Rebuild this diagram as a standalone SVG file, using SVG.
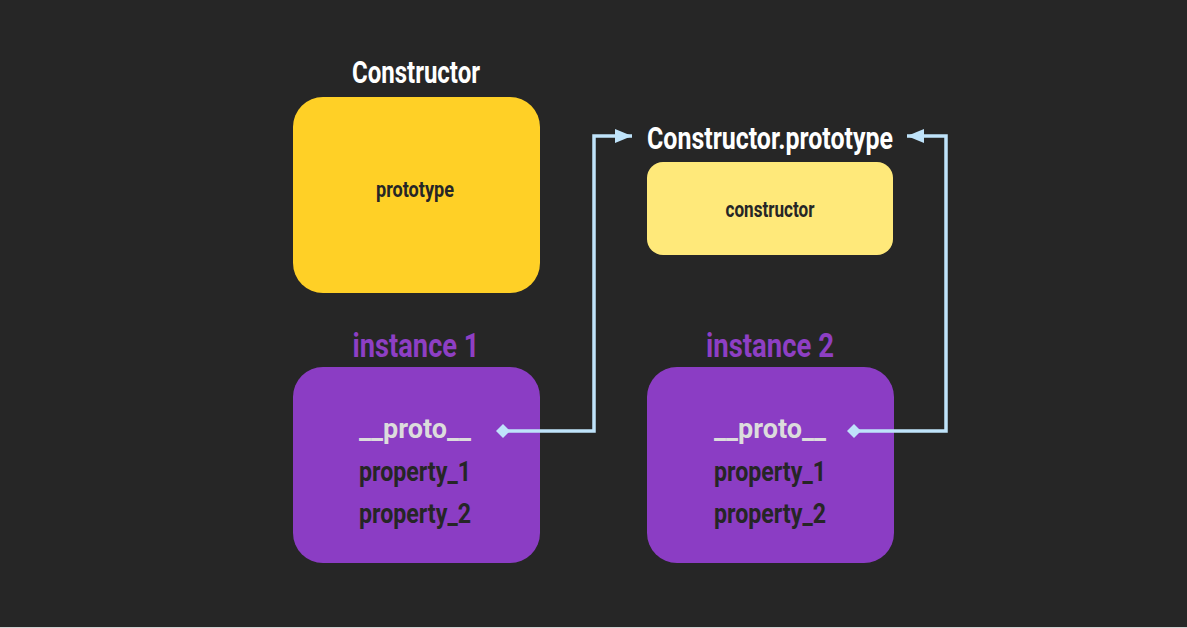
<svg xmlns="http://www.w3.org/2000/svg" width="1187" height="628" viewBox="0 0 1187 628">
<defs>
<style>
text{font-family:Roboto,"Liberation Sans",sans-serif;font-weight:700;text-anchor:middle}
.title{fill:#ffffff;font-size:32px}
.inst{fill:#8e3fc4;font-size:34px}
.in{fill:#262626;font-size:28px}
.proto{fill:#dcdcdc;font-size:28px}
.small{fill:#262626;font-size:22px}
.conn{fill:none;stroke:#bfe3fa;stroke-width:3.5}
</style>
<marker id="dia" markerWidth="16" markerHeight="16" refX="8" refY="8" markerUnits="userSpaceOnUse" orient="auto">
<path d="M1 8 L8 1 L15 8 L8 15 Z" fill="#bfe3fa"/>
</marker>
<marker id="arr" markerWidth="18" markerHeight="16" refX="17" refY="8" markerUnits="userSpaceOnUse" orient="auto">
<path d="M0 1 L17 8 L0 15 Z" fill="#bfe3fa"/>
</marker>
</defs>
<rect width="1187" height="628" fill="#262626"/>
<rect y="627" width="1187" height="1" fill="#d0d0d0"/>

<g id="constructor">
<text class="title" x="416" y="83" textLength="128" lengthAdjust="spacingAndGlyphs">Constructor</text>
<rect x="293" y="97" width="247" height="196" rx="30" fill="#ffd026"/>
<text class="small" x="415" y="197" textLength="78" lengthAdjust="spacingAndGlyphs">prototype</text>
</g>

<g id="constructor-prototype">
<text class="title" x="770" y="149" textLength="246" lengthAdjust="spacingAndGlyphs">Constructor.prototype</text>
<rect x="647" y="162" width="246" height="93" rx="16" fill="#ffe97a"/>
<text class="small" x="770" y="217" textLength="89" lengthAdjust="spacingAndGlyphs">constructor</text>
</g>

<g id="instance1">
<text class="inst" x="416" y="357" textLength="127" lengthAdjust="spacingAndGlyphs">instance 1</text>
<rect x="293" y="367" width="247" height="196" rx="30" fill="#8b3dc4"/>
<text class="proto" x="415" y="438" textLength="112" lengthAdjust="spacingAndGlyphs">__proto__</text>
<text class="in" x="415" y="481" textLength="112" lengthAdjust="spacingAndGlyphs">property_1</text>
<text class="in" x="415" y="523" textLength="112" lengthAdjust="spacingAndGlyphs">property_2</text>
</g>

<g id="instance2">
<text class="inst" x="770" y="357" textLength="128" lengthAdjust="spacingAndGlyphs">instance 2</text>
<rect x="647" y="367" width="247" height="196" rx="30" fill="#8b3dc4"/>
<text class="proto" x="770" y="438" textLength="112" lengthAdjust="spacingAndGlyphs">__proto__</text>
<text class="in" x="770" y="481" textLength="112" lengthAdjust="spacingAndGlyphs">property_1</text>
<text class="in" x="770" y="523" textLength="112" lengthAdjust="spacingAndGlyphs">property_2</text>
</g>

<g id="connectors">
<path class="conn" d="M503 431 H594 V136 H632" marker-start="url(#dia)" marker-end="url(#arr)"/>
<path class="conn" d="M854 431 H946 V136 H907" marker-start="url(#dia)" marker-end="url(#arr)"/>
</g>
</svg>
